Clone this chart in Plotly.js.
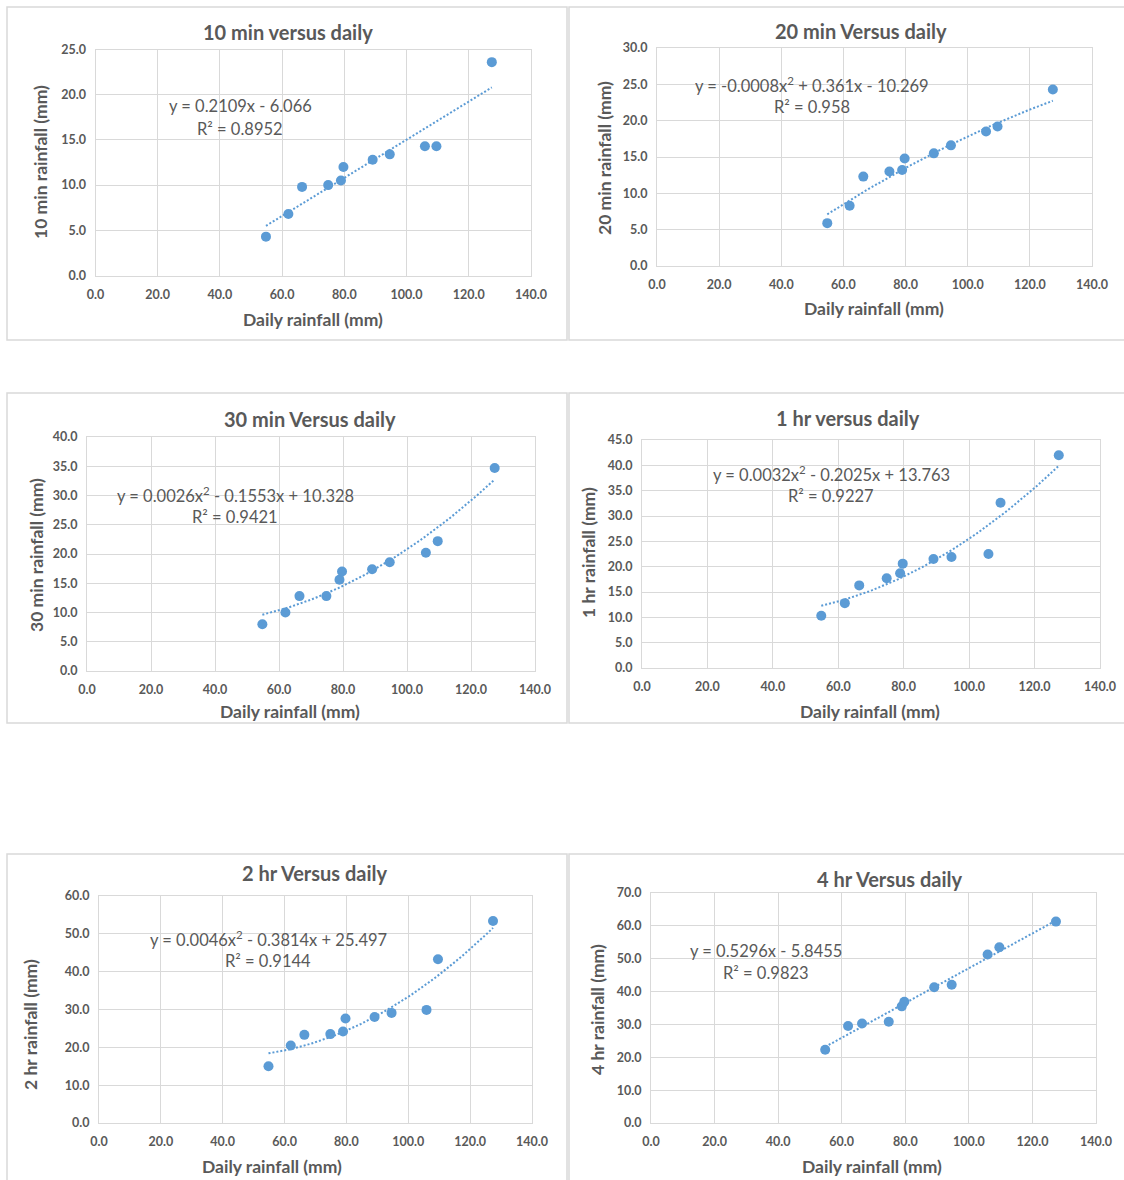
<!DOCTYPE html>
<html><head><meta charset="utf-8">
<script src="https://cdn.plot.ly/plotly-3.0.1.min.js"></script>
<style>html,body{margin:0;padding:0;background:#fff}#chart{width:1124px;height:1180px}</style>
</head><body><div id="chart"></div>
<script>
// ---- data ----
const dailyRainfall = [54.8, 62.0, 66.4, 74.8, 78.9, 79.7, 89.1, 94.6, 105.9, 109.6, 127.4];
const rain10min = [4.3, 6.8, 9.8, 10.0, 10.5, 12.0, 12.8, 13.4, 14.3, 14.3, 23.6];
const rain20min = [5.9, 8.3, 12.3, 13.0, 13.2, 14.8, 15.5, 16.6, 18.5, 19.2, 24.3];
const rain30min = [8.0, 10.0, 12.8, 12.8, 15.6, 17.0, 17.4, 18.6, 20.2, 22.2, 34.7];
const rain1hr = [10.3, 12.8, 16.3, 17.7, 18.7, 20.6, 21.5, 21.9, 22.5, 32.6, 42.0];
const rain2hr = [15.0, 20.5, 23.3, 23.5, 24.2, 27.6, 28.0, 29.1, 29.9, 43.3, 53.4];
const rain4hr = [22.3, 29.5, 30.3, 30.8, 35.5, 36.9, 41.3, 42.1, 51.3, 53.5, 61.3];

const panelTitles = ["10 min versus daily", "20 min Versus daily", "30 min Versus daily",
                     "1 hr versus daily", "2 hr Versus daily", "4 hr Versus daily"];
const yAxisTitles = ["10 min rainfall (mm)", "20 min rainfall (mm)", "30 min rainfall (mm)",
                     "1 hr rainfall (mm)", "2 hr rainfall (mm)", "4 hr rainfall (mm)"];
const xAxisTitle = "Daily rainfall (mm)";
const yAxisMax = [25, 30, 40, 45, 60, 70];
const yAxisStep = [5, 5, 5, 5, 10, 10];
// trendline coefficients [a (x^2), b (x), c] as printed on the chart
const trendCoeffs = [
  [0, 0.2109, -6.066],
  [-0.0008, 0.361, -10.269],
  [0.0026, -0.1553, 10.328],
  [0.0032, -0.2025, 13.763],
  [0.0046, -0.3814, 25.497],
  [0, 0.5296, -5.8455]
];
const equationLabels = ["y = 0.2109x - 6.066", "y = -0.0008x<sup>2</sup> + 0.361x - 10.269",
  "y = 0.0026x<sup>2</sup> - 0.1553x + 10.328", "y = 0.0032x<sup>2</sup> - 0.2025x + 13.763",
  "y = 0.0046x<sup>2</sup> - 0.3814x + 25.497", "y = 0.5296x - 5.8455"];
const r2Labels = ["R² = 0.8952", "R² = 0.958", "R² = 0.9421", "R² = 0.9227", "R² = 0.9144", "R² = 0.9823"];
const seriesList = [rain10min, rain20min, rain30min, rain1hr, rain2hr, rain4hr];

// ---- layout geometry (pixels) ----
const W = 1124, H = 1180;
const panels = [
  {box:[7,7,567,340],   plot:[95.5,49.5,531,275.5], title:[288,32], eq:[240,106], r2:[240,129], xt:[313,319], yt:[41,162]},
  {box:[569,7,1135,340],plot:[657,48,1092,266],     title:[861,31], eq:[812,85],  r2:[812,107], xt:[874,308], yt:[604,158]},
  {box:[7,393,567,723], plot:[87,437,535,671],      title:[310,419],eq:[235,495], r2:[235,517], xt:[290,711], yt:[36,555]},
  {box:[569,393,1135,723],plot:[642,440,1100,668],  title:[848,418],eq:[831,474], r2:[831,496], xt:[870,711], yt:[588,553]},
  {box:[7,854,567,1195],plot:[99,896,532,1123],     title:[315,873],eq:[268,939], r2:[268,961], xt:[272,1166],yt:[30,1025]},
  {box:[569,854,1135,1195],plot:[651,893,1096,1123],title:[890,879],eq:[766,951], r2:[766,973], xt:[872,1166],yt:[597,1010]}
];
const fx = x => x / W, fy = y => 1 - y / H;
const BLUE = '#5B9BD5', GRID = '#D9D9D9', TXT = '#595959';
const FONT = 'Lato, "Liberation Sans", sans-serif';

const traces = [], shapes = [], annotations = [];
const layout = {
  width: W, height: H, margin: {l:0, r:0, t:0, b:0},
  paper_bgcolor: '#fff', plot_bgcolor: '#fff', showlegend: false,
  font: {family: FONT, color: TXT}
};

panels.forEach((p, i) => {
  const n = i + 1;
  const xa = 'xaxis' + (n === 1 ? '' : n), ya = 'yaxis' + (n === 1 ? '' : n);
  const xr = 'x' + (n === 1 ? '' : n), yr = 'y' + (n === 1 ? '' : n);
  const axBase = {
    showgrid: true, gridcolor: GRID, gridwidth: 1, showline: true, linecolor: GRID, linewidth: 1,
    mirror: true, zeroline: false, tickformat: '.1f', ticks: 'outside', tickcolor: 'rgba(0,0,0,0)',
    tickfont: {family: FONT, size: 12.5, color: TXT, weight: 'bold'}, fixedrange: true
  };
  layout[xa] = Object.assign({}, axBase, {domain: [fx(p.plot[0]), fx(p.plot[2])], range: [0, 140], dtick: 20, tick0: 0, anchor: yr, ticklen: 7});
  layout[ya] = Object.assign({}, axBase, {domain: [fy(p.plot[3]), fy(p.plot[1])], range: [0, yAxisMax[i]], dtick: yAxisStep[i], tick0: 0, anchor: xr, ticklen: 6});

  // trendline from the chart's printed equation
  const c = trendCoeffs[i];
  const xmin = Math.min(...dailyRainfall), xmax = Math.max(...dailyRainfall);
  const tx = [], ty = [];
  for (let k = 0; k <= 80; k++) {
    const x = xmin + (xmax - xmin) * k / 80;
    tx.push(x); ty.push(c[0] * x * x + c[1] * x + c[2]);
  }
  traces.push({x: tx, y: ty, xaxis: xr, yaxis: yr, mode: 'lines', type: 'scatter',
    line: {color: BLUE, width: 2, dash: '2px,2px'}, hoverinfo: 'skip'});
  traces.push({x: dailyRainfall, y: seriesList[i], xaxis: xr, yaxis: yr, mode: 'markers', type: 'scatter',
    marker: {color: BLUE, size: 10}});

  shapes.push({type: 'rect', xref: 'paper', yref: 'paper', x0: fx(p.box[0]), x1: fx(p.box[2]),
    y0: fy(p.box[3]), y1: fy(p.box[1]), line: {color: GRID, width: 1.5}, layer: 'below'});

  const ann = (pos, text, font, extra) => annotations.push(Object.assign({xref: 'paper', yref: 'paper',
    x: fx(pos[0]), y: fy(pos[1]), xanchor: 'center', yanchor: 'middle', showarrow: false, text: text,
    font: Object.assign({family: FONT, color: TXT}, font)}, extra || {}));
  ann(p.title, panelTitles[i], {size: 20, weight: 'bold'});
  ann(p.eq, equationLabels[i], {size: 16.5});
  ann(p.r2, r2Labels[i], {size: 16.5});
  ann(p.xt, xAxisTitle, {size: 17.5, weight: 'bold'});
  ann(p.yt, yAxisTitles[i], {size: 17.5, weight: 'bold'}, {textangle: -90});
});
layout.shapes = shapes;
layout.annotations = annotations;
Plotly.newPlot('chart', traces, layout, {staticPlot: true, displayModeBar: false});
</script></body></html>
